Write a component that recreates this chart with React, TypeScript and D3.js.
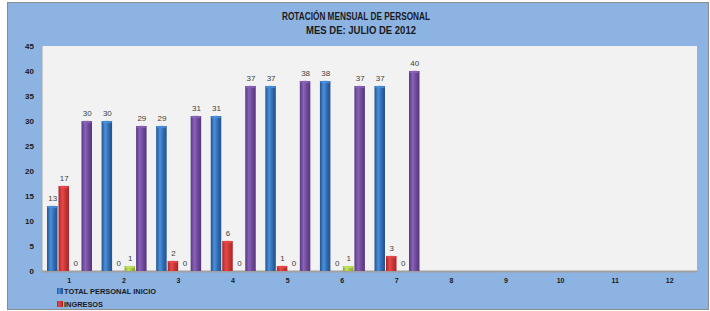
import * as d3 from 'd3';
import React, { useEffect, useRef } from 'react';

const categories = ['1', '2', '3', '4', '5', '6', '7', '8', '9', '10', '11', '12'];
const seriesNames = ['TOTAL PERSONAL INICIO', 'INGRESOS', 'RETIROS', 'TOTAL PERSONAL FINAL'];
const inicio = [13, 30, 29, 31, 37, 38, 37];
const ingresos = [17, 0, 2, 6, 1, 0, 3];
const retiros = [0, 1, 0, 0, 0, 1, 0];
const final = [30, 29, 31, 37, 38, 37, 40];
const yTicks = [0, 5, 10, 15, 20, 25, 30, 35, 40, 45];

const colors = [
  ['#24528c', '#4a90dc', '#2c62a6'],
  ['#a82526', '#e8494a', '#c0302f'],
  ['#86a52c', '#c2e064', '#98ba38'],
  ['#573780', '#8a63b8', '#66428f'],
];

function App() {
  const svgRef = useRef<SVGSVGElement>(null);

  useEffect(() => {
    document.body.style.margin = '0';
    const w = 710;
    const h = 311;
    const font = '"Liberation Sans", Arial, sans-serif';
    const svg = d3.select(svgRef.current).attr('width', w).attr('height', h);
    svg.selectAll('*').remove();

    const defs = svg.append('defs');
    colors.forEach((c, i) => {
      const g = defs.append('linearGradient').attr('id', 'g' + i).attr('x1', 0).attr('x2', 1).attr('y1', 0).attr('y2', 0);
      g.append('stop').attr('offset', '0%').attr('stop-color', c[0]);
      g.append('stop').attr('offset', '35%').attr('stop-color', c[1]);
      g.append('stop').attr('offset', '75%').attr('stop-color', c[2]);
      g.append('stop').attr('offset', '100%').attr('stop-color', c[0]);
    });

    svg.append('rect').attr('x', 7.5).attr('y', 2.5).attr('width', 701).attr('height', 307)
      .attr('fill', '#8db3e2').attr('stroke', '#8c8c8c').attr('stroke-width', 1);

    const left = 42, right = 697, top = 46, bottom = 271;
    const x0 = d3.scaleBand().domain(categories).range([left, right]);
    const x1 = d3.scaleBand().domain(seriesNames).range([5, 51]);
    const y = d3.scaleLinear().domain([0, 45]).range([bottom, top]);

    svg.append('rect').attr('x', left).attr('y', top).attr('width', right - left).attr('height', bottom - top).attr('fill', '#f2f2f2');
    svg.append('line').attr('x1', left).attr('x2', left).attr('y1', top).attr('y2', bottom).attr('stroke', '#a6a6a6');
    svg.append('line').attr('x1', left).attr('x2', right).attr('y1', bottom + 0.5).attr('y2', bottom + 0.5)
      .attr('stroke', '#a0a0a0').attr('stroke-width', 2);

    svg.append('g').selectAll('text').data(yTicks).join('text')
      .attr('x', 34).attr('y', (d) => y(d) + 3).attr('text-anchor', 'end')
      .attr('font-family', font).attr('font-weight', 'bold').attr('font-size', 8).attr('fill', '#1a1a1a')
      .text((d) => d);

    svg.append('g').selectAll('text').data(categories).join('text')
      .attr('x', (d) => x0(d)! + x0.bandwidth() / 2).attr('y', 283).attr('text-anchor', 'middle')
      .attr('font-family', font).attr('font-weight', 'bold').attr('font-size', 7).attr('fill', '#1a1a1a')
      .text((d) => d);

    const all = [inicio, ingresos, retiros, final];
    all.forEach((vals, si) => {
      const g = svg.append('g');
      const items = vals.map((v, i) => ({ v, c: categories[i] }));
      g.selectAll('rect').data(items).join('rect')
        .attr('x', (d) => x0(d.c)! + x1(seriesNames[si])!)
        .attr('y', (d) => y(d.v))
        .attr('width', x1.bandwidth() - 1)
        .attr('height', (d) => bottom - y(d.v))
        .attr('fill', `url(#g${si})`);
      g.selectAll('ellipse').data(items.filter((d) => d.v > 0)).join('ellipse')
        .attr('cx', (d) => x0(d.c)! + x1(seriesNames[si])! + (x1.bandwidth() - 1) / 2)
        .attr('cy', (d) => y(d.v) + 1)
        .attr('rx', (x1.bandwidth() - 1) / 2).attr('ry', 1.3)
        .attr('fill', colors[si][1]).attr('opacity', 0.8);
      g.selectAll('text').data(items).join('text')
        .attr('x', (d) => x0(d.c)! + x1(seriesNames[si])! + x1.bandwidth() / 2)
        .attr('y', (d) => y(d.v) - 5)
        .attr('text-anchor', 'middle')
        .attr('font-family', font).attr('font-size', 8).attr('fill', '#404040')
        .text((d) => d.v);
    });

    svg.append('text').attr('x', 356).attr('y', 20).attr('text-anchor', 'middle')
      .attr('font-family', font).attr('font-weight', 'bold').attr('font-size', 10).attr('fill', '#1a1a1a')
      .attr('textLength', 148).attr('lengthAdjust', 'spacingAndGlyphs')
      .text('ROTACIÓN MENSUAL DE PERSONAL');
    svg.append('text').attr('x', 361).attr('y', 34).attr('text-anchor', 'middle')
      .attr('font-family', font).attr('font-weight', 'bold').attr('font-size', 10).attr('fill', '#1a1a1a')
      .attr('textLength', 110).attr('lengthAdjust', 'spacingAndGlyphs')
      .text('MES DE: JULIO DE 2012');

    const legend = svg.append('g');
    seriesNames.slice(0, 2).forEach((name, i) => {
      legend.append('rect').attr('x', 57).attr('y', 288 + i * 13).attr('width', 6).attr('height', 6).attr('fill', `url(#g${i})`);
      legend.append('text').attr('x', 64).attr('y', 294 + i * 13)
        .attr('font-family', font).attr('font-weight', 'bold').attr('font-size', 8).attr('fill', '#1a1a1a')
        .attr('textLength', i === 0 ? 92 : 39).attr('lengthAdjust', 'spacingAndGlyphs')
        .text(name);
    });
  }, []);

  return (
    <div>
      <svg ref={svgRef}></svg>
    </div>
  );
}

export default App;
